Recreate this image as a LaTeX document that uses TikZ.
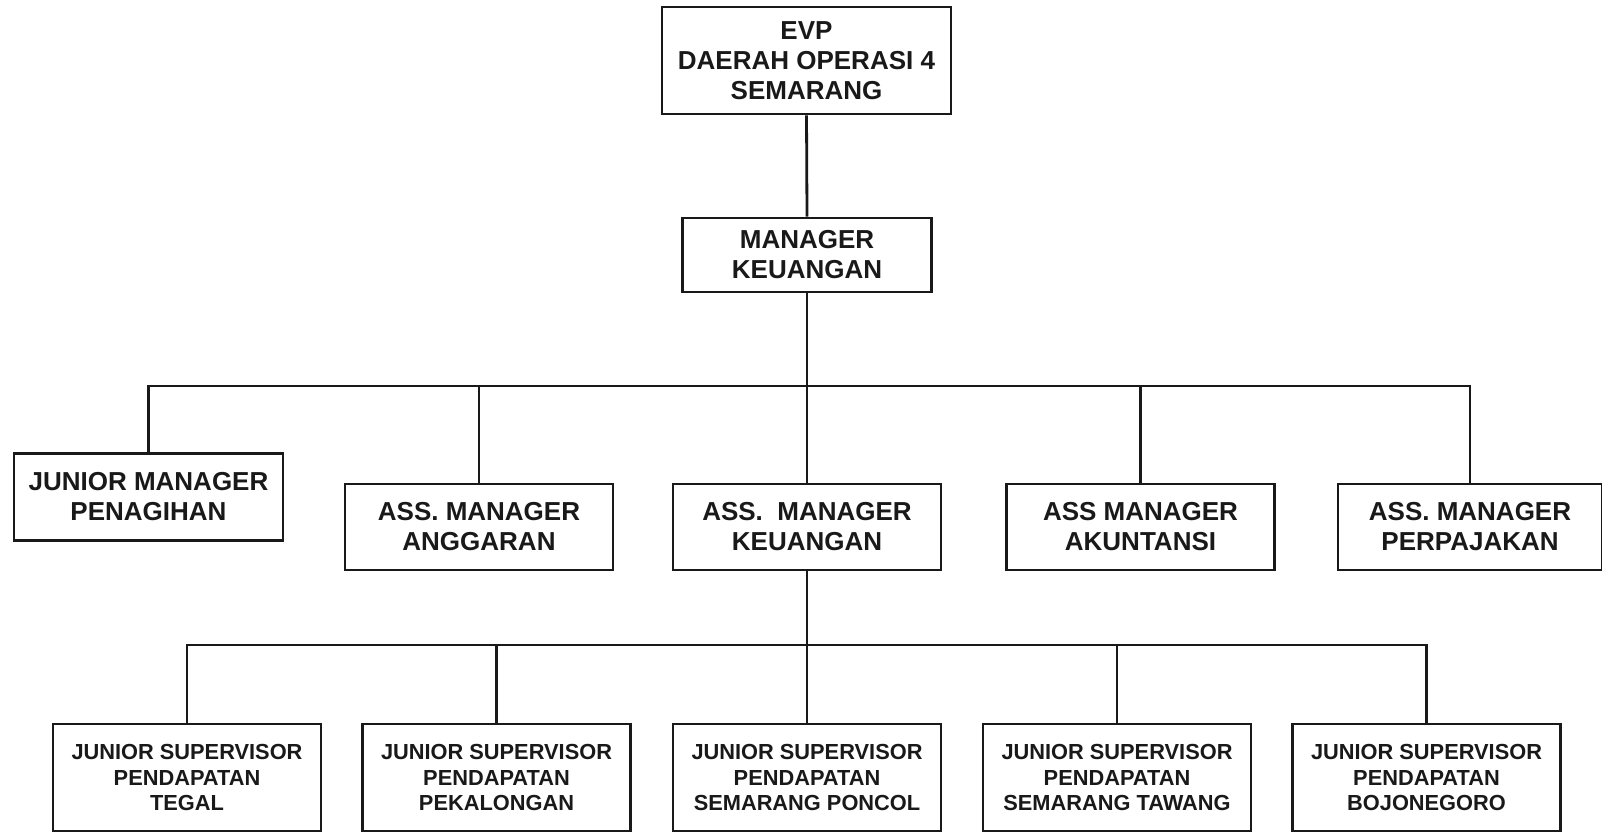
\documentclass[tikz,border=0pt]{standalone}
\usepackage{fontspec}
\setmainfont{Liberation Sans}
\begin{document}
\begin{tikzpicture}[x=1pt,y=-1pt,
  box/.style={draw=black!90, line width=2.6pt, inner sep=0pt, align=center,
    font=\bfseries\fontsize{26}{30}\selectfont, text=black!90},
  lvone/.style={box, minimum width=268pt, minimum height=86pt},
  lvtwo/.style={box, minimum width=268pt, minimum height=107pt,
    font=\bfseries\fontsize{21.8}{25.5}\selectfont},
  conn/.style={draw=black!90, line width=2.8pt}]
\useasboundingbox (0,0) rectangle (1602,832);
% top
\node[box, minimum width=289pt, minimum height=107pt] (evp) at (806.5,60.5) {EVP\\DAERAH OPERASI 4\\SEMARANG};
\node[box, minimum width=249pt, minimum height=74pt] (mgr) at (807,255) {MANAGER\\KEUANGAN};
% level 1
\node[lvone, minimum width=269pt, minimum height=87pt] (jm) at (148.5,497) {JUNIOR MANAGER\\PENAGIHAN};
\node[lvone] (ang) at (479,527) {ASS. MANAGER\\ANGGARAN};
\node[lvone] (ak) at (807,527) {ASS.\ \ MANAGER\\KEUANGAN};
\node[lvone] (akt) at (1140.5,527) {ASS MANAGER\\AKUNTANSI};
\node[lvone, minimum width=264pt] (pjk) at (1470,527) {ASS. MANAGER\\PERPAJAKAN};
% level 2
\node[lvtwo] (teg) at (187,777.5) {JUNIOR SUPERVISOR\\PENDAPATAN\\TEGAL};
\node[lvtwo] (pek) at (496.5,777.5) {JUNIOR SUPERVISOR\\PENDAPATAN\\PEKALONGAN};
\node[lvtwo] (pon) at (807,777.5) {JUNIOR SUPERVISOR\\PENDAPATAN\\SEMARANG PONCOL};
\node[lvtwo] (taw) at (1117,777.5) {JUNIOR SUPERVISOR\\PENDAPATAN\\SEMARANG TAWANG};
\node[lvtwo] (boj) at (1426.5,777.5) {JUNIOR SUPERVISOR\\PENDAPATAN\\BOJONEGORO};
% connectors
\coordinate (b1) at (807,386);
\coordinate (b2) at (807,645);
\draw[conn] (evp.south) -- (mgr.north);
\draw[conn] (mgr.south) -- (ak.north);
\draw[conn] (jm.north) -- (jm.north |- b1) -- (pjk.north |- b1) -- (pjk.north);
\draw[conn] (ang.north |- b1) -- (ang.north);
\draw[conn] (akt.north |- b1) -- (akt.north);
\draw[conn] (ak.south) -- (pon.north);
\draw[conn] (teg.north) -- (teg.north |- b2) -- (boj.north |- b2) -- (boj.north);
\draw[conn] (pek.north |- b2) -- (pek.north);
\draw[conn] (taw.north |- b2) -- (taw.north);
\end{tikzpicture}
\end{document}
